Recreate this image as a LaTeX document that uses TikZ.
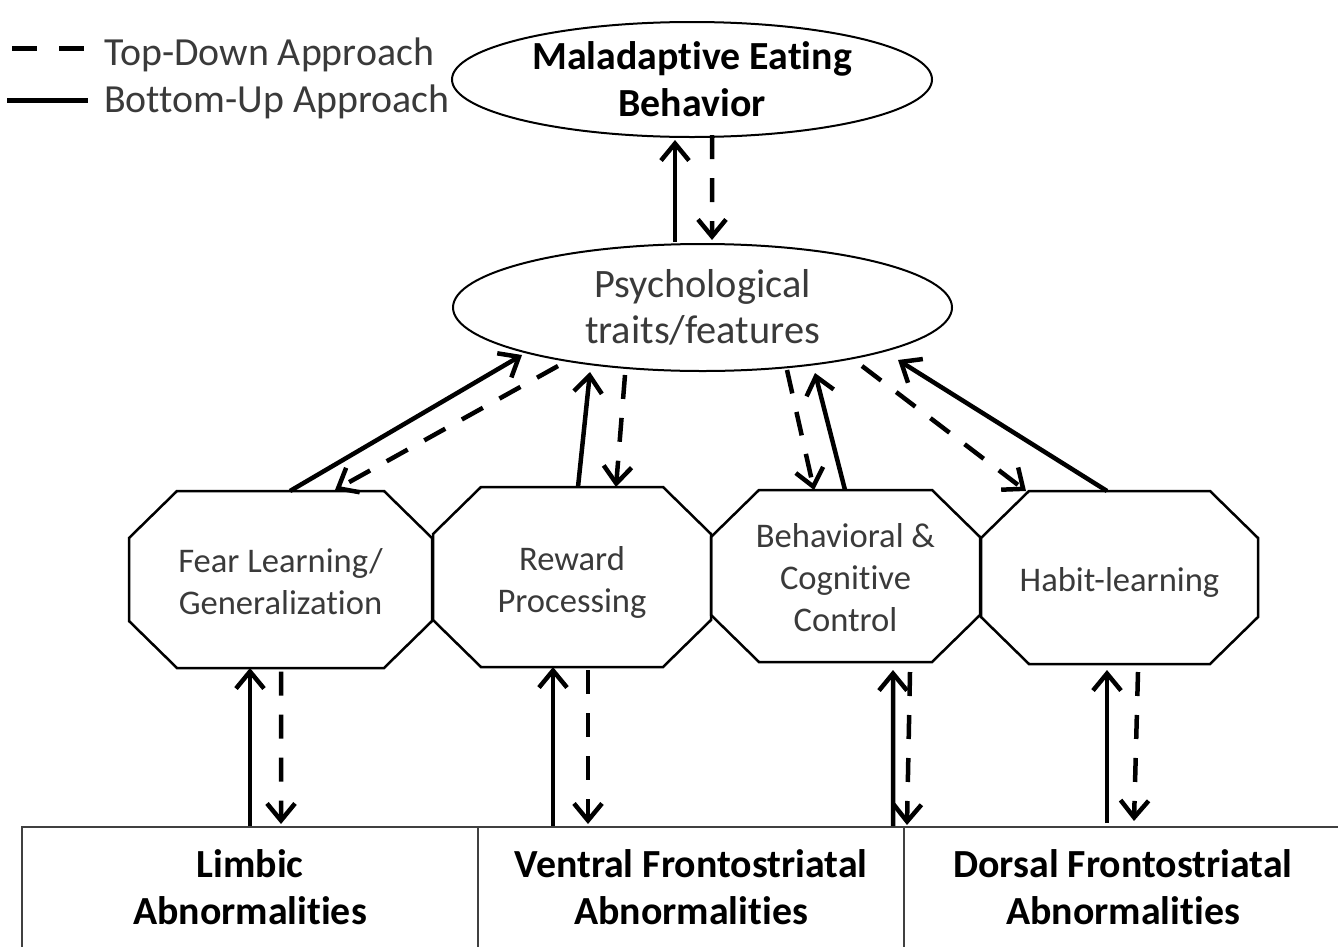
\documentclass[tikz,border=0pt]{standalone}
\usepackage{fontspec}
\setmainfont{Carlito}[Ligatures={NoCommon}]
\usetikzlibrary{arrows.meta,shapes.geometric,calc}
\definecolor{txtgray}{HTML}{3A3A3A}
\tikzset{
  ell/.style={draw=black,line width=2bp,ellipse,inner sep=0pt,align=center},
  octbox/.style={draw=none,inner sep=0pt,align=center,text=txtgray,font=\fontsize{34.7}{42}\selectfont},
  octline/.style={draw=black,line width=2.5bp},
  basebox/.style={draw=black!75,line width=2bp,rectangle,inner sep=0pt,minimum height=121bp,align=center,font=\bfseries\fontsize{40}{47}\selectfont},
  legtext/.style={anchor=west,inner sep=0pt,text=txtgray,font=\fontsize{40}{46}\selectfont},
  bu/.style={line width=4.5bp,-{Straight Barb[length=17bp,width=28bp]}},
  td/.style={line width=4.5bp,dash pattern=on 24bp off 19bp,-{Straight Barb[length=17bp,width=28bp]}},
}
% octagon outline round a text node: #1 name, #2 left, #3 right, #4 top, #5 bottom (offsets from node centre)
\newcommand{\octdraw}[5]{%
  \draw[octline] ($(#1)+(#2+48,#4)$) -- ($(#1)+(#3-48,#4)$)
    -- ($(#1)+(#3,#4+47)$) -- ($(#1)+(#3,#5-47)$)
    -- ($(#1)+(#3-48,#5)$) -- ($(#1)+(#2+48,#5)$)
    -- ($(#1)+(#2,#5-47)$) -- ($(#1)+(#2,#4+47)$) -- cycle;}
\begin{document}
\begin{tikzpicture}[x=1bp,y=-1bp]
\useasboundingbox (0,0) rectangle (1338,946);
% legend
\coordinate (ld1) at (12,48);
\coordinate (ld2) at (86,48);
\coordinate (ls1) at (7,100);
\coordinate (ls2) at (88,100);
\draw[line width=5bp,dash pattern=on 25bp off 22bp] (ld1) -- (ld2);
\draw[line width=5bp] (ls1) -- (ls2);
\node[legtext] (lt1) at (104,55) {Top-Down Approach};
\node[legtext] (lt2) at (104,102) {Bottom-Up Approach};
% ellipses
\node[ell,minimum width=480bp,minimum height=115bp,font=\bfseries\fontsize{40}{47}\selectfont] (mal) at (692,79.5) {Maladaptive Eating\\Behavior};
\node[ell,minimum width=499bp,minimum height=127bp,text=txtgray,font=\fontsize{40.5}{46}\selectfont] (psy) at (702.5,307.5) {Psychological\\traits/features};
% octagons
\node[octbox] (fear) at (280.5,581.5) {Fear Learning/\\Generalization};
\node[octbox] (rew) at (572,582.5) {Reward\\Processing};
\node[octbox] (beh) at (845.5,577.5) {Behavioral \&\\Cognitive\\Control};
\node[octbox] (hab) at (1119.5,582.5) {Habit-learning};
\octdraw{fear}{-151.5}{151.5}{-90.5}{86.5}
\octdraw{rew}{-139}{139}{-95.5}{84.5}
\octdraw{beh}{-134.5}{134.5}{-87.5}{84.5}
\octdraw{hab}{-138.5}{138.5}{-91.5}{81.5}
% bottom boxes
\node[basebox,minimum width=456bp] (limb) at (250,887.5) {Limbic\\Abnormalities};
\node[basebox,minimum width=426bp] (vent) at (691,887.5) {Ventral Frontostriatal\\Abnormalities};
\node[basebox,minimum width=438bp] (dors) at (1123,887.5) {Dorsal Frontostriatal\\Abnormalities};
% arrows top
\draw[bu] ($(psy.center)+(-27.5,-65.5)$) -- ($(mal.center)+(-17,60.5)$);
\draw[td] ($(mal.center)+(20,55.5)$) -- ($(psy.center)+(9.5,-67.5)$);
% psych <-> octagons
\draw[bu] ($(fear.center)+(9.5,-90.5)$) -- ($(psy.center)+(-180.5,47.5)$);
\draw[td] ($(psy.center)+(-144.5,58.5)$) -- ($(fear.center)+(54.5,-91.5)$);
\draw[bu] ($(rew.center)+(6,-95.5)$) -- ($(psy.center)+(-112.5,64.5)$);
\draw[td] ($(psy.center)+(-77.5,67.5)$) -- ($(rew.center)+(44,-95.5)$);
\draw[td] ($(psy.center)+(84.5,62.5)$) -- ($(beh.center)+(-31.5,-87.5)$);
\draw[bu] ($(beh.center)+(-0.5,-87.5)$) -- ($(psy.center)+(112.5,65.5)$);
\draw[td] ($(psy.center)+(159.5,58.5)$) -- ($(hab.center)+(-93.5,-91.5)$);
\draw[bu] ($(hab.center)+(-12.5,-91.5)$) -- ($(psy.center)+(195.5,52.5)$);
% octagons <-> bottom boxes
\draw[bu] (limb.north) -- ($(fear.center)+(-30.5,86.5)$);
\draw[td] ($(fear.center)+(0.5,90)$) -- ($(limb.north)+(31,-2)$);
\draw[bu] ($(vent.north)+(-138,0)$) -- ($(rew.center)+(-19,84.5)$);
\draw[td] ($(rew.center)+(16,87.5)$) -- ($(vent.north)+(-103,-2)$);
\draw[bu] ($(vent.north)+(202,0)$) -- ($(beh.center)+(47.5,92.5)$);
\draw[td] ($(beh.center)+(64.5,94.5)$) -- ($(dors.north)+(-216,-1)$);
\draw[bu] ($(dors.north)+(-16,-3)$) -- ($(hab.center)+(-12.5,87.5)$);
\draw[td] ($(hab.center)+(18.5,89.5)$) -- ($(dors.north)+(11,-5)$);
\end{tikzpicture}
\end{document}
